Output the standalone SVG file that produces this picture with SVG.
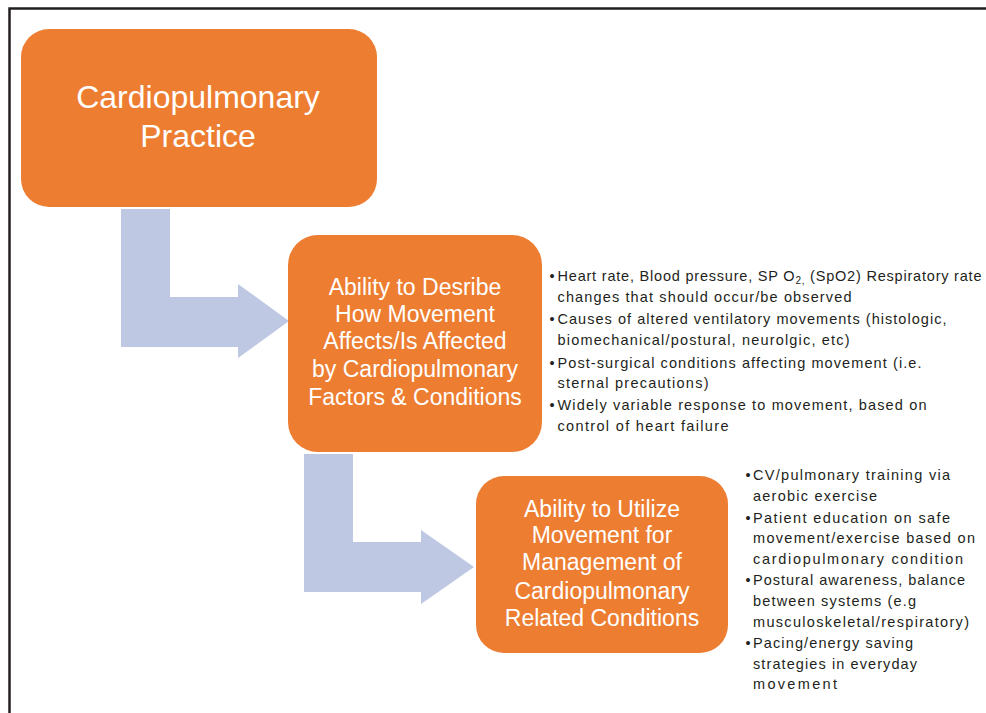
<svg xmlns="http://www.w3.org/2000/svg" width="986" height="713" viewBox="0 0 986 713">
<style>
.box{fill:#ED7D31;}
.arrow{fill:#BEC8E3;}
.title{font-family:"Liberation Sans",Arial,sans-serif;fill:#FFFFFF;text-anchor:middle;}
.t1{font-size:32px;}
.t2{font-size:23px;}
.note{font-family:"Liberation Sans",Arial,sans-serif;font-size:14.5px;fill:#231F20;}
.frame{fill:none;stroke:#231F20;stroke-width:2.5;}
</style>
<rect width="986" height="713" fill="#FFFFFF"/>
<path class="frame" d="M9.5 713 V8.5 H986"/>

<g id="connectors">
  <path class="arrow" d="M121 209 H170 V297 H238 V284 L289 321 L238 358 V347 H121 Z"/>
  <path class="arrow" d="M304 454 H353 V542 H421 V530 L474 567 L421 604 V592 H304 Z"/>
</g>

<g id="node-practice">
  <rect class="box" x="21" y="29" width="356" height="178" rx="28" ry="28"/>
  <text class="title t1" x="198" y="108">Cardiopulmonary</text>
  <text class="title t1" x="198" y="147">Practice</text>
</g>

<g id="node-describe">
  <rect class="box" x="288" y="235" width="254" height="217" rx="30" ry="30"/>
  <text class="title t2" x="415" y="295">Ability to Desribe</text>
  <text class="title t2" x="415" y="322">How Movement</text>
  <text class="title t2" x="415" y="349">Affects/Is Affected</text>
  <text class="title t2" x="415" y="377">by Cardiopulmonary</text>
  <text class="title t2" x="415" y="405">Factors &amp; Conditions</text>
</g>

<g id="node-utilize">
  <rect class="box" x="476" y="476" width="252" height="177" rx="28" ry="28"/>
  <text class="title t2" x="602" y="517">Ability to Utilize</text>
  <text class="title t2" x="602" y="543">Movement for</text>
  <text class="title t2" x="602" y="570">Management of</text>
  <text class="title t2" x="602" y="599">Cardiopulmonary</text>
  <text class="title t2" x="602" y="626">Related Conditions</text>
</g>

<g id="notes-describe">
  <text class="note" x="549.5" y="281">•</text>
  <text class="note" x="557.5" y="281" textLength="424" lengthAdjust="spacing">Heart rate, Blood pressure, SP O<tspan font-size="10" dy="3">2,</tspan><tspan dy="-3"> (SpO2) Respiratory rate</tspan></text>
  <text class="note" x="557.5" y="302" textLength="294" lengthAdjust="spacing">changes that should occur/be observed</text>
  <text class="note" x="549.5" y="324">•</text>
  <text class="note" x="557.5" y="324" textLength="389" lengthAdjust="spacing">Causes of altered ventilatory movements (histologic,</text>
  <text class="note" x="557.5" y="345" textLength="292" lengthAdjust="spacing">biomechanical/postural, neurolgic, etc)</text>
  <text class="note" x="549.5" y="368">•</text>
  <text class="note" x="557.5" y="368" textLength="364" lengthAdjust="spacing">Post-surgical conditions affecting movement (i.e.</text>
  <text class="note" x="557.5" y="388" textLength="151" lengthAdjust="spacing">sternal precautions)</text>
  <text class="note" x="549.5" y="410">•</text>
  <text class="note" x="557.5" y="410" textLength="369" lengthAdjust="spacing">Widely variable response to movement, based on</text>
  <text class="note" x="557.5" y="431" textLength="171" lengthAdjust="spacing">control of heart failure</text>
</g>

<g id="notes-utilize">
  <text class="note" x="745.5" y="480">•</text>
  <text class="note" x="753" y="480" textLength="197" lengthAdjust="spacing">CV/pulmonary training via</text>
  <text class="note" x="753" y="500.5" textLength="124" lengthAdjust="spacing">aerobic exercise</text>
  <text class="note" x="745.5" y="522.5">•</text>
  <text class="note" x="753" y="522.5" textLength="197" lengthAdjust="spacing">Patient education on safe</text>
  <text class="note" x="753" y="543" textLength="222" lengthAdjust="spacing">movement/exercise based on</text>
  <text class="note" x="753" y="563.5" textLength="210" lengthAdjust="spacing">cardiopulmonary condition</text>
  <text class="note" x="745.5" y="585">•</text>
  <text class="note" x="753" y="585" textLength="212" lengthAdjust="spacing">Postural awareness, balance</text>
  <text class="note" x="753" y="605.5" textLength="163" lengthAdjust="spacing">between systems (e.g</text>
  <text class="note" x="753" y="626.5" textLength="216" lengthAdjust="spacing">musculoskeletal/respiratory)</text>
  <text class="note" x="745.5" y="648">•</text>
  <text class="note" x="753" y="648" textLength="160" lengthAdjust="spacing">Pacing/energy saving</text>
  <text class="note" x="753" y="669" textLength="164" lengthAdjust="spacing">strategies in everyday</text>
  <text class="note" x="753" y="689" textLength="84" lengthAdjust="spacing">movement</text>
</g>
</svg>
